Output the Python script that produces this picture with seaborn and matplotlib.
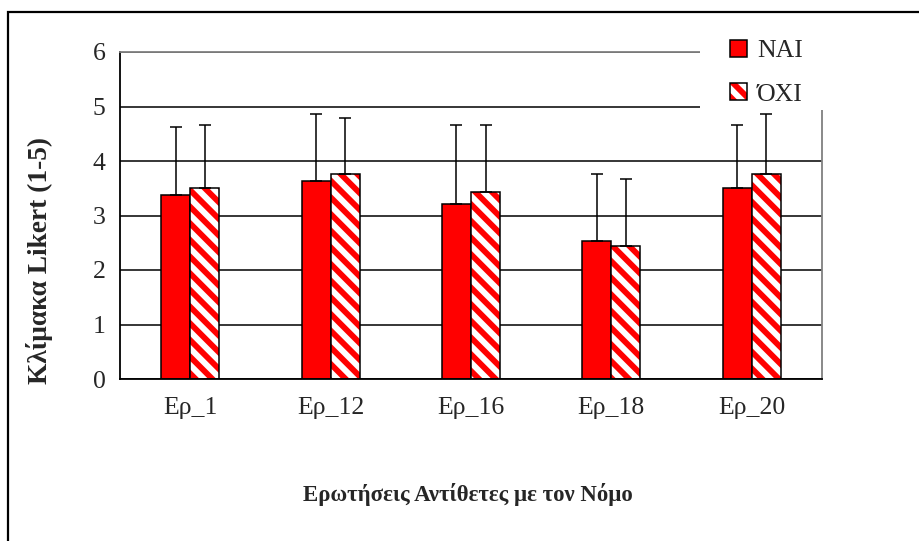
import numpy as np
import pandas as pd
import matplotlib
matplotlib.use("Agg")
import matplotlib.pyplot as plt
from matplotlib.patches import Patch, Rectangle
from matplotlib.legend_handler import HandlerTuple
import seaborn as sns

# Datos
categorias = ["Ερ_1", "Ερ_12", "Ερ_16", "Ερ_18", "Ερ_20"]
grupos = ["ΝΑΙ", "ΌΧΙ"]
medias_nai = [3.38, 3.63, 3.21, 2.53, 3.50]
medias_oxi = [3.50, 3.76, 3.43, 2.44, 3.76]
desv_nai = [1.24, 1.23, 1.45, 1.23, 1.16]
desv_oxi = [1.16, 1.03, 1.23, 1.23, 1.10]
ticks_y = [0, 1, 2, 3, 4, 5, 6]

df = pd.DataFrame({
    "pregunta": categorias * 2,
    "grupo": [grupos[0]] * 5 + [grupos[1]] * 5,
    "media": medias_nai + medias_oxi,
})

sns.set_style("white")
plt.rcParams["font.family"] = ["Liberation Serif", "DejaVu Serif"]
plt.rcParams["hatch.linewidth"] = 4.2

fig = plt.figure(figsize=(9.19, 5.41), dpi=100)
ax = fig.add_axes([120 / 919, 1 - 379 / 541, 702 / 919, 327 / 541])

sns.barplot(data=df, x="pregunta", y="media", hue="grupo", hue_order=grupos,
            palette={grupos[0]: "#ff0000", grupos[1]: "white"}, saturation=1,
            width=0.414, errorbar=None, edgecolor="black", linewidth=1.1,
            legend=False, ax=ax)

# Barras rayadas: rayas rojas y contorno negro aparte
for bar in ax.containers[1]:
    bar.set_facecolor("white")
    bar.set_edgecolor("#ff0000")
    bar.set_hatch("\\\\")
    bar.set_linewidth(0)
    ax.add_patch(Rectangle(bar.get_xy(), bar.get_width(), bar.get_height(),
                           fill=False, edgecolor="black", linewidth=1.1, zorder=bar.get_zorder() + 0.1))

# Barras de error (solo hacia arriba)
for cont, desv in zip(ax.containers, [desv_nai, desv_oxi]):
    xs = [b.get_x() + b.get_width() / 2 for b in cont]
    ys = [b.get_height() for b in cont]
    ax.errorbar(xs, ys, yerr=[np.zeros(len(desv)), desv], fmt="none", ecolor="black",
                elinewidth=1.1, capsize=4.3, capthick=1.1, zorder=4)

ax.set_ylim(0, 6)
ax.set_xlim(-0.5, 4.5)
ax.set_yticks(ticks_y)
ax.yaxis.grid(True, color="black", linewidth=1.1)
ax.set_axisbelow(True)
ax.set_xlabel("")
ax.set_ylabel("")

ax.set_xticks(np.arange(-0.5, 5, 1))
ax.set_xticklabels([])
ax.set_xticks(np.arange(5), minor=True)
ax.set_xticklabels(categorias, minor=True)
ax.tick_params(axis="x", which="major", length=8, width=1.1, direction="out", color="black")
ax.tick_params(axis="x", which="minor", length=0, pad=13, labelsize=18.5)
ax.tick_params(axis="y", length=7, width=1.1, direction="out", pad=3.5, labelsize=18.5, color="black")

for lado in ["left", "bottom"]:
    ax.spines[lado].set_color("black")
    ax.spines[lado].set_linewidth(1.3)
for lado in ["top", "right"]:
    ax.spines[lado].set_color("#808080")
    ax.spines[lado].set_linewidth(1.3)

fig.text(40 / 919, 1 - 261 / 541, "Κλίμακα Likert (1-5)", rotation=90,
         ha="center", va="center", fontsize=19.7, fontweight="bold")
fig.text(468 / 919, 1 - 494 / 541, "Ερωτήσεις Αντίθετες με τον Νόμο",
         ha="center", va="center", fontsize=16.5, fontweight="bold")

# Fondo blanco de la leyenda (tapa la rejilla)
fig.add_artist(Rectangle((700 / 919, 1 - 110 / 541), 125 / 919, 82 / 541,
                         transform=fig.transFigure, facecolor="white", edgecolor="none", zorder=1))

# Leyenda
h_nai = Patch(facecolor="#ff0000", edgecolor="black", linewidth=1.1)
h_oxi_r = Patch(facecolor="white", edgecolor="#ff0000", hatch="\\\\", linewidth=0)
h_oxi_b = Patch(fill=False, edgecolor="black", linewidth=1.1)
fig.legend([h_nai, (h_oxi_r, h_oxi_b)], grupos, loc="upper left",
           bbox_to_anchor=(730 / 919, 1 - 39.5 / 541), bbox_transform=fig.transFigure,
           borderaxespad=0, borderpad=0, fontsize=18.5, handlelength=0.65,
           handleheight=0.65, handletextpad=0.4, labelspacing=0.82, frameon=False,
           handler_map={tuple: HandlerTuple(ndivide=1, pad=0)})

# Marco exterior
fig.add_artist(Rectangle((8 / 919, -0.1), 1.2, 1.1 - 12 / 541, transform=fig.transFigure,
                         fill=False, edgecolor="black", linewidth=1.6, zorder=10))

plt.savefig("out.png", dpi=100)
plt.close()
